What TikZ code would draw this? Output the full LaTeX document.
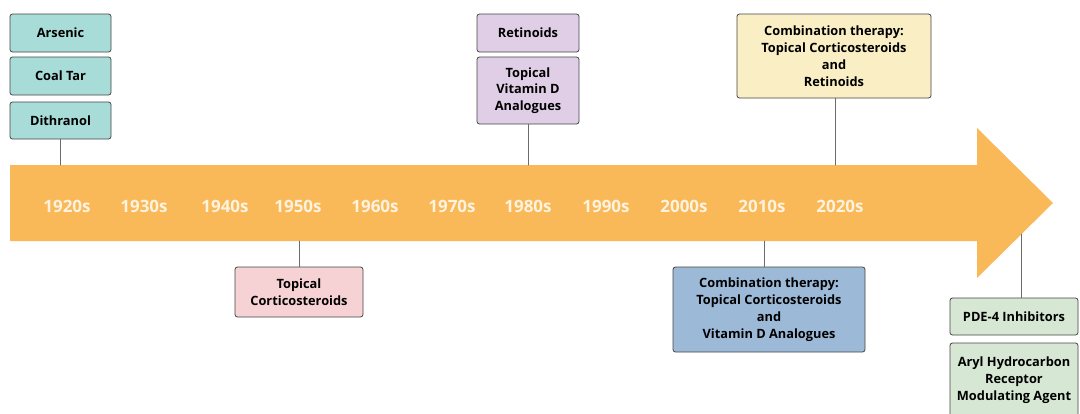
\documentclass[tikz,border=0pt]{standalone}
\usepackage{fontspec}
\setmainfont{Open Sans}
\definecolor{band}{RGB}{249,185,88}
\definecolor{yeartxt}{RGB}{255,242,222}
\definecolor{tealbox}{RGB}{168,220,216}
\definecolor{lilacbox}{RGB}{223,206,230}
\definecolor{creambox}{RGB}{249,238,196}
\definecolor{pinkbox}{RGB}{246,210,212}
\definecolor{bluebox}{RGB}{156,186,216}
\definecolor{greenbox}{RGB}{214,232,212}
\definecolor{edge}{RGB}{70,70,70}
\begin{document}
\begin{tikzpicture}[x=1pt, y=-1pt, line join=round, line cap=round,
	tbox/.style={draw=edge, line width=0.8pt, rounded corners=2.5pt, align=center,
		inner sep=0pt, font=\fontsize{12.8}{16.8}\selectfont\bfseries},
	stem/.style={draw=edge!80, line width=1pt},
	year/.style={text=yeartxt, font=\fontsize{17}{18}\selectfont\bfseries}]
	\clip (0,0) rectangle (1080,413);
	\fill[white] (0,0) rectangle (1080,413);
	% arrow band
	\path (10,165) coordinate (BL)
		(977,165) coordinate (HT)
		(0,234) coordinate (HE);
	\fill[band] (10,165) -- (977,165) -- (977,128) -- (1053,203)
		-- (977,278) -- (977,241) -- (10,241) -- cycle;
	% decades
	\foreach \yr/\xx in {1920/67,1930/144,1940/225,1950/298,1960/375,1970/452,
		1980/528,1990/606,2000/684,2010/762,2020/840}{
		\node[year] (y\yr) at (\xx,206) {\yr s};}
	% boxes above
	\node[tbox, fill=tealbox, minimum width=101, minimum height=38] (ars) at (60.5,33) {Arsenic};
	\node[tbox, fill=tealbox, minimum width=101, minimum height=38] (coal) at (60.5,76) {Coal Tar};
	\node[tbox, fill=tealbox, minimum width=101, minimum height=37] (dith) at (60.5,120.5) {Dithranol};
	\node[tbox, fill=lilacbox, minimum width=102, minimum height=38] (ret) at (528,33) {Retinoids};
	\node[tbox, fill=lilacbox, minimum width=102, minimum height=67] (vitd) at (528,90.5) {Topical\\Vitamin D\\Analogues};
	\node[tbox, fill=creambox, minimum width=194, minimum height=84] (comr) at (834,56)
		{Combination therapy:\\Topical Corticosteroids\\and\\Retinoids};
	% boxes below
	\node[tbox, fill=pinkbox, minimum width=128, minimum height=50] (cort) at (299,292) {Topical\\Corticosteroids};
	\node[tbox, fill=bluebox, minimum width=192, minimum height=85] (comv) at (769,309.5)
		{Combination therapy:\\Topical Corticosteroids\\and\\Vitamin D Analogues};
	\node[tbox, fill=greenbox, minimum width=128, minimum height=37] (pde) at (1014,316.5) {PDE-4 Inhibitors};
	\node[tbox, fill=greenbox, minimum width=128, minimum height=74] (aryl) at (1014,380)
		{Aryl Hydrocarbon\\Receptor\\Modulating Agent};
	% stems
	\draw[stem] (dith.south) -- (dith.south |- BL);
	\draw[stem] (vitd.south) -- (vitd.south |- BL);
	\draw[stem] ([xshift=1]comr.south) -- ([xshift=1]comr.south |- BL);
	\path (0,241) coordinate (BB);
	\draw[stem] (cort.north) -- (cort.north |- BB);
	\draw[stem] ([xshift=-5]comv.north) -- ([xshift=-5]comv.north |- BB);
	\draw[stem] ([xshift=7]pde.north) -- ([xshift=7]pde.north |- HE);
\end{tikzpicture}
\end{document}
